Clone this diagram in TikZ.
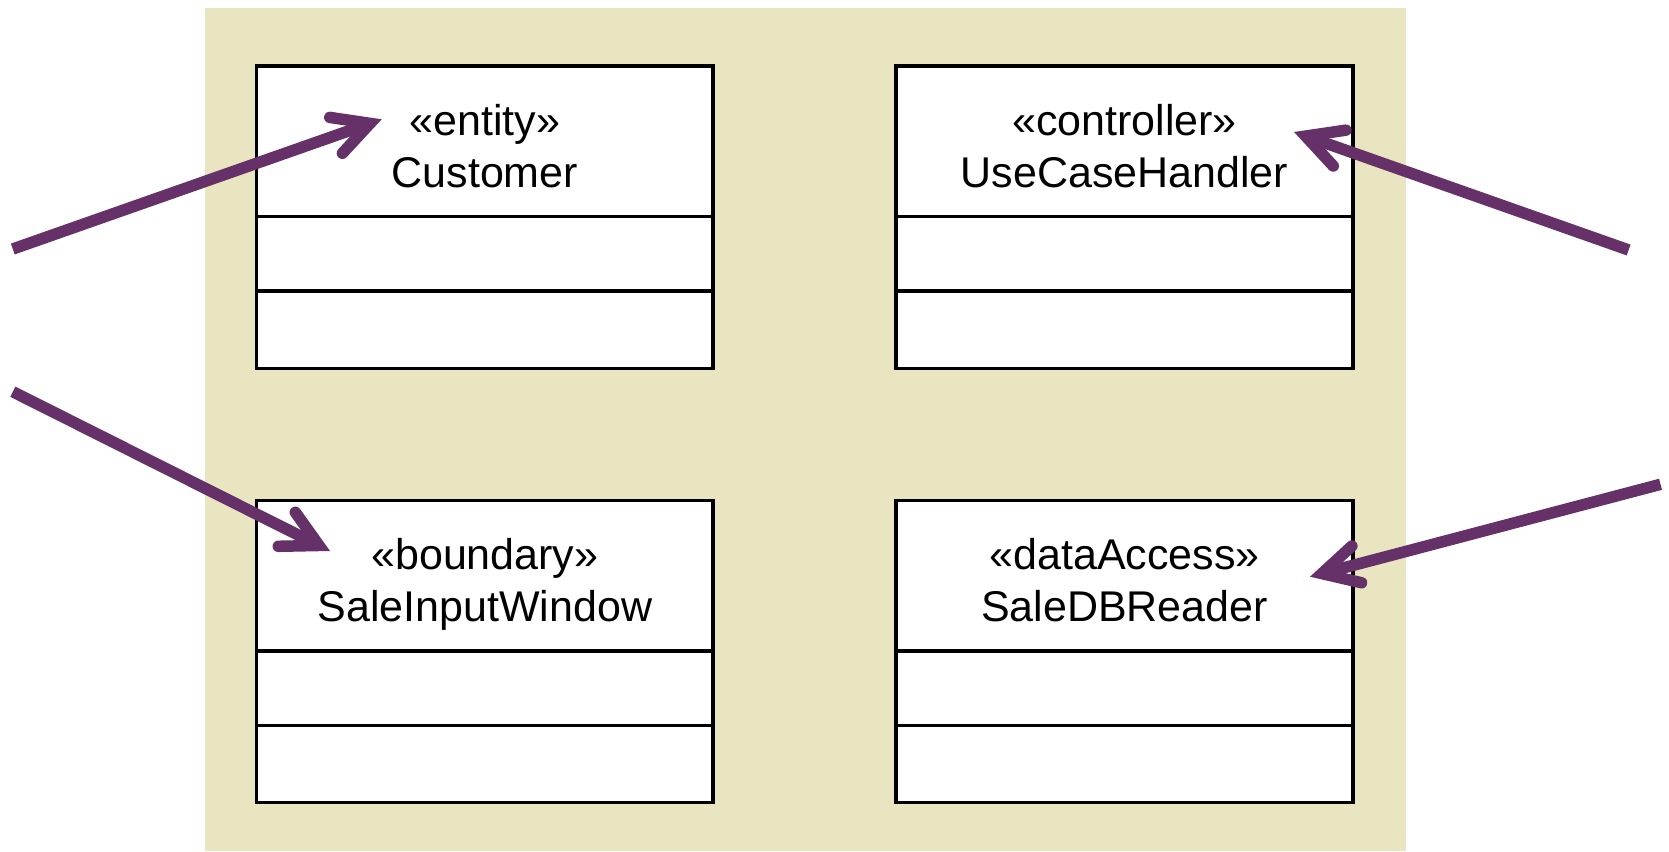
\documentclass[tikz,border=0pt]{standalone}
\usepackage{fontspec}
\setmainfont{Liberation Sans}
\usetikzlibrary{arrows.meta,calc}

\definecolor{pkgbg}{RGB}{233,229,193}
\definecolor{pointer}{RGB}{101,49,104}

\tikzset{
  classbox/.style={draw=black, fill=white, line width=3.5pt,
    minimum width=456.7pt, minimum height=302.3pt, inner sep=0pt},
  divider/.style={draw=black, line width=3.5pt},
  label/.style={anchor=base, inner sep=0pt,
    font=\fontsize{43}{50}\selectfont},
  pointerarrow/.style={draw=pointer, line width=11.5pt,
    -{Straight Barb[length=36pt, width=38pt, line cap=round, line join=miter]}}
}

\begin{document}
\begin{tikzpicture}[x=1pt, y=-1pt]
  \useasboundingbox (0,0) rectangle (1669,851);
  % package background
  \fill[pkgbg] (205.4,8.5) rectangle (1406,851);

  % class boxes
  \node[classbox] (cust) at (484.85,217.15) {};
  \node[classbox] (ucase) at (1124.55,217.15) {};
  \node[classbox] (sinput) at (484.85,651.45) {};
  \node[classbox] (sdb) at (1124.55,651.45) {};

  % compartment dividers
  \foreach \b in {cust,ucase,sinput,sdb}{
    \draw[divider] ($(\b.north west)+(0,152.2)$) -- ($(\b.north east)+(0,152.2)$);
    \draw[divider] ($(\b.north west)+(0,226.7)$) -- ($(\b.north east)+(0,226.7)$);
  }

  % stereotypes and class names
  \node[label] (custS) at (484.85,135) {«entity»};
  \node[label] (custN) at (484.85,187) {Customer};
  \node[label] (ucaseS) at (1124.55,135) {«controller»};
  \node[label] (ucaseN) at (1124.55,187) {UseCaseHandler};
  \node[label] (sinputS) at (484.85,569.3) {«boundary»};
  \node[label] (sinputN) at (484.85,621.3) {SaleInputWindow};
  \node[label] (sdbS) at (1124.55,569.3) {«dataAccess»};
  \node[label] (sdbN) at (1124.55,621.3) {SaleDBReader};

  % pointer arrows
  \coordinate (p1s) at (12.8,249);
  \coordinate (p1e) at (381.7,119.3);
  \coordinate (p2s) at (1628.6,250);
  \coordinate (p2e) at (1294,132);
  \coordinate (p3s) at (12.8,391.7);
  \coordinate (p3e) at (330,551);
  \coordinate (p4s) at (1660.5,484.3);
  \coordinate (p4e) at (1310,576.7);
  \draw[pointerarrow] (p1s) -- (p1e);
  \draw[pointerarrow] (p2s) -- (p2e);
  \draw[pointerarrow] (p3s) -- (p3e);
  \draw[pointerarrow] (p4s) -- (p4e);
\end{tikzpicture}
\end{document}
